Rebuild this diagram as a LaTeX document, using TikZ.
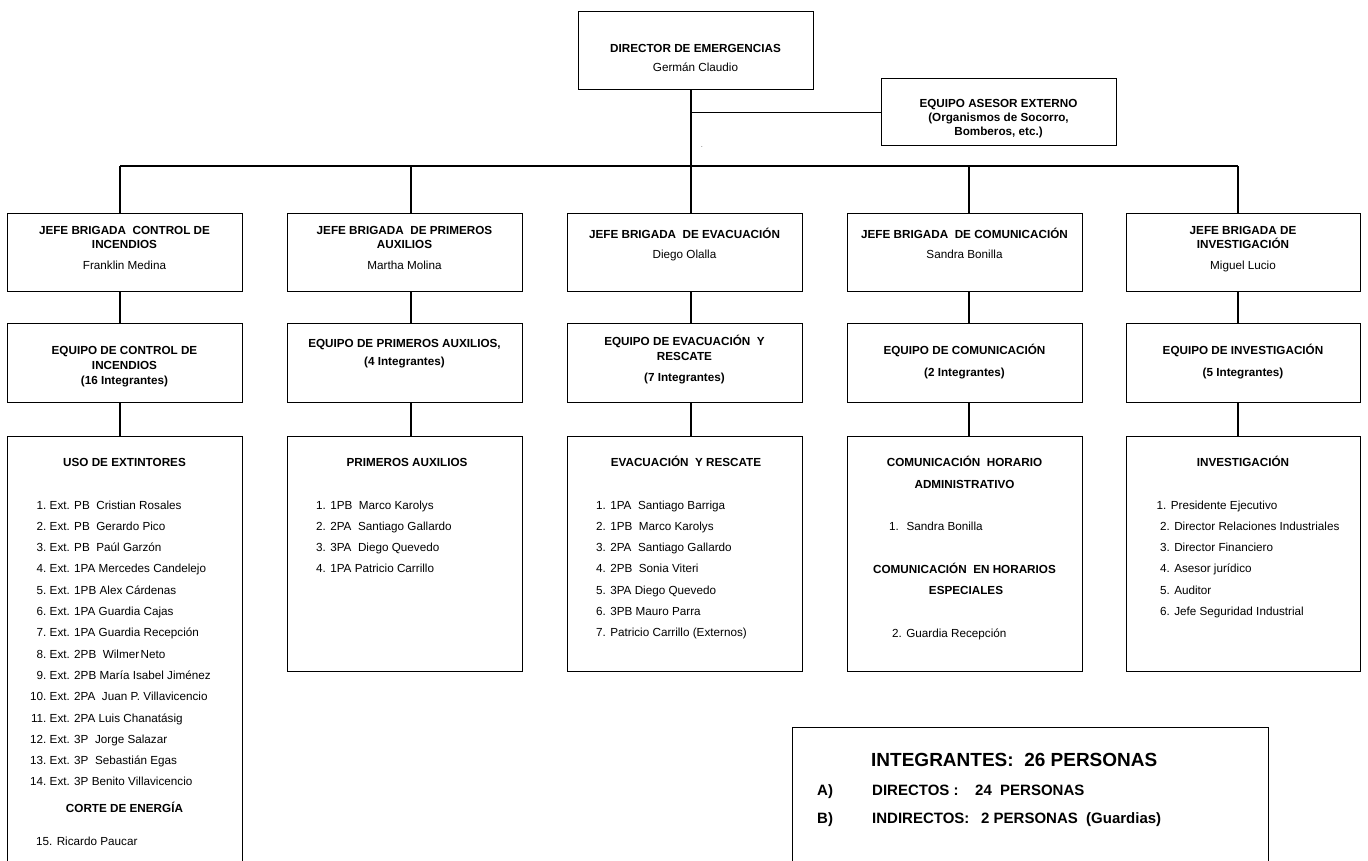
\documentclass[tikz,border=0pt]{standalone}
\usepackage{fontspec}
\setmainfont{Liberation Sans}
\newcommand{\numcol}[1]{\makebox[16.3pt][r]{#1}\ }
\newcommand{\gap}{\hspace{6.5pt}}
\begin{document}
\begin{tikzpicture}[x=1pt,y=-1pt,
  box/.style={draw=black, line width=1.3pt, rectangle, inner sep=0pt, anchor=north west},
  link/.style={draw=black, line width=1.2pt},
  hd/.style={inner sep=0pt, anchor=base, font=\fontsize{11.7}{14}\selectfont\bfseries},
  nm/.style={inner sep=0pt, anchor=base, font=\fontsize{11.7}{14}\selectfont},
  li/.style={inner sep=0pt, anchor=base west, font=\fontsize{11.7}{14}\selectfont},
  big/.style={inner sep=0pt, anchor=base west, font=\fontsize{19}{23}\selectfont\bfseries},
  sm/.style={inner sep=0pt, anchor=base west, font=\fontsize{15}{18}\selectfont\bfseries},
]
\useasboundingbox (0,0) rectangle (1368,860);
\clip (0,0) rectangle (1368,860);
\fill[white] (0,0) rectangle (1368,860);

% top level
\node[box, minimum width=235pt, minimum height=78pt] (dir) at (578,11) {};
\node[hd] (dirT) at (695.5,52) {DIRECTOR DE EMERGENCIAS};
\node[nm] (dirN) at (695.5,71) {Germán Claudio};

\node[box, minimum width=235pt, minimum height=67pt] (adv) at (881,78) {};
\node[hd] (adv1) at (998.5,107) {EQUIPO ASESOR EXTERNO};
\node[hd] (adv2) at (998.5,121) {(Organismos de Socorro,};
\node[hd] (adv3) at (998.5,135) {Bomberos, etc.)};
\node[inner sep=0pt, anchor=base, font=\fontsize{6}{7}\selectfont] (dot) at (702,147) {.};

% column axes and bus
\coordinate (bus) at (0,166);
\coordinate (x1) at (120,0);
\coordinate (x2) at (411,0);
\coordinate (x3) at (691,0);
\coordinate (x4) at (969,0);
\coordinate (x5) at (1238,0);

% brigade heads
\node[box, minimum width=235pt, minimum height=78pt] (j1) at (7,213) {};
\node[box, minimum width=235pt, minimum height=78pt] (j2) at (287,213) {};
\node[box, minimum width=235pt, minimum height=78pt] (j3) at (567,213) {};
\node[box, minimum width=235pt, minimum height=78pt] (j4) at (847,213) {};
\node[box, minimum width=234pt, minimum height=78pt] (j5) at (1126,213) {};

\node[hd] (j1a) at (124.5,234) {JEFE BRIGADA~ CONTROL DE};
\node[hd] (j1b) at (124.5,248) {INCENDIOS};
\node[nm] (j1c) at (124.5,269) {Franklin Medina};
\node[hd] (j2a) at (404.5,234) {JEFE BRIGADA~ DE PRIMEROS};
\node[hd] (j2b) at (404.5,248) {AUXILIOS};
\node[nm] (j2c) at (404.5,269) {Martha Molina};
\node[hd] (j3a) at (684.5,238) {JEFE BRIGADA~ DE EVACUACIÓN};
\node[nm] (j3c) at (684.5,258) {Diego Olalla};
\node[hd] (j4a) at (964.5,238) {JEFE BRIGADA~ DE COMUNICACIÓN};
\node[nm] (j4c) at (964.5,258) {Sandra Bonilla};
\node[hd] (j5a) at (1243,234) {JEFE BRIGADA DE};
\node[hd] (j5b) at (1243,248) {INVESTIGACIÓN};
\node[nm] (j5c) at (1243,269) {Miguel Lucio};

% teams
\node[box, minimum width=235pt, minimum height=79pt] (e1) at (7,323) {};
\node[box, minimum width=235pt, minimum height=79pt] (e2) at (287,323) {};
\node[box, minimum width=235pt, minimum height=79pt] (e3) at (567,323) {};
\node[box, minimum width=235pt, minimum height=79pt] (e4) at (847,323) {};
\node[box, minimum width=234pt, minimum height=79pt] (e5) at (1126,323) {};

\node[hd] (e1a) at (124.5,354) {EQUIPO DE CONTROL DE};
\node[hd] (e1b) at (124.5,369) {INCENDIOS};
\node[hd] (e1c) at (124.5,384) {(16 Integrantes)};
\node[hd] (e2a) at (404.5,347) {EQUIPO DE PRIMEROS AUXILIOS,};
\node[hd] (e2c) at (404.5,365) {(4 Integrantes)};
\node[hd] (e3a) at (684.5,345) {EQUIPO DE EVACUACIÓN~ Y};
\node[hd] (e3b) at (684.5,360) {RESCATE};
\node[hd] (e3c) at (684.5,381) {(7 Integrantes)};
\node[hd] (e4a) at (964.5,354) {EQUIPO DE COMUNICACIÓN};
\node[hd] (e4c) at (964.5,376) {(2 Integrantes)};
\node[hd] (e5a) at (1243,354) {EQUIPO DE INVESTIGACIÓN};
\node[hd] (e5c) at (1243,376) {(5 Integrantes)};

% member lists
\node[box, minimum width=235pt, minimum height=450pt] (l1) at (7,436) {};
\node[box, minimum width=235pt, minimum height=235pt] (l2) at (287,436) {};
\node[box, minimum width=235pt, minimum height=235pt] (l3) at (567,436) {};
\node[box, minimum width=235pt, minimum height=235pt] (l4) at (847,436) {};
\node[box, minimum width=234pt, minimum height=235pt] (l5) at (1126,436) {};

% column 1
\node[hd] (l1h) at (124.5,466) {USO DE EXTINTORES};
\node[li] (l1i1) at (30,509) {\numcol{1.}Ext. PB~ Cristian Rosales};
\node[li] (l1i2) at (30,530.3) {\numcol{2.}Ext. PB~ Gerardo Pico};
\node[li] (l1i3) at (30,551.6) {\numcol{3.}Ext. PB~ Paúl Garzón};
\node[li] (l1i4) at (30,572.9) {\numcol{4.}Ext. 1PA Mercedes Candelejo};
\node[li] (l1i5) at (30,594.2) {\numcol{5.}Ext. 1PB Alex Cárdenas};
\node[li] (l1i6) at (30,615.5) {\numcol{6.}Ext. 1PA Guardia Cajas};
\node[li] (l1i7) at (30,636.8) {\numcol{7.}Ext. 1PA Guardia Recepción};
\node[li] (l1i8) at (30,658.1) {\numcol{8.}Ext. 2PB~ Wilmer\hspace{1.5pt}Neto};
\node[li] (l1i9) at (30,679.4) {\numcol{9.}Ext. 2PB María Isabel Jiménez};
\node[li] (l1i10) at (30,700.7) {\numcol{10.}Ext. 2PA~ Juan P. Villavicencio};
\node[li] (l1i11) at (30,722) {\numcol{11.}Ext. 2PA Luis Chanatásig};
\node[li] (l1i12) at (30,743.3) {\numcol{12.}Ext. 3P~ Jorge Salazar};
\node[li] (l1i13) at (30,764.6) {\numcol{13.}Ext. 3P~ Sebastián Egas};
\node[li] (l1i14) at (30,785.9) {\numcol{14.}Ext. 3P Benito Villavicencio};
\node[hd] (l1h2) at (124.5,812) {CORTE DE ENERGÍA};
\node[li] (l1i15) at (36,845) {15. Ricardo Paucar};

% column 2
\node[hd] (l2h) at (407,466) {PRIMEROS AUXILIOS};
\node[li] (l2i1) at (316,509) {1. 1PB\gap Marco Karolys};
\node[li] (l2i2) at (316,530.3) {2. 2PA\gap Santiago Gallardo};
\node[li] (l2i3) at (316,551.6) {3. 3PA\gap Diego Quevedo};
\node[li] (l2i4) at (316,572.9) {4. 1PA Patricio Carrillo};

% column 3
\node[hd] (l3h) at (686,466) {EVACUACIÓN~ Y RESCATE};
\node[li] (l3i1) at (596,509) {1. 1PA\gap Santiago Barriga};
\node[li] (l3i2) at (596,530.3) {2. 1PB\gap Marco Karolys};
\node[li] (l3i3) at (596,551.6) {3. 2PA\gap Santiago Gallardo};
\node[li] (l3i4) at (596,572.9) {4. 2PB\gap Sonia Viteri};
\node[li] (l3i5) at (596,594.2) {5. 3PA Diego Quevedo};
\node[li] (l3i6) at (596,615.5) {6. 3PB Mauro Parra};
\node[li] (l3i7) at (596,636.8) {7. Patricio Carrillo (Externos)};

% column 4
\node[hd] (l4h) at (964.5,466) {COMUNICACIÓN~ HORARIO};
\node[hd] (l4h2) at (964.5,488) {ADMINISTRATIVO};
\node[li] (l4i1) at (889,530) {1.~ Sandra Bonilla};
\node[hd] (l4h3) at (964.5,573) {COMUNICACIÓN~ EN HORARIOS};
\node[hd] (l4h4) at (966,594) {ESPECIALES};
\node[li] (l4i2) at (892,637) {2. Guardia Recepción};

% column 5
\node[hd] (l5h) at (1243,466) {INVESTIGACIÓN};
\node[li] (l5i1) at (1156.5,509) {1. Presidente Ejecutivo};
\node[li] (l5i2) at (1160,530.3) {2. Director Relaciones Industriales};
\node[li] (l5i3) at (1160,551.6) {3. Director Financiero};
\node[li] (l5i4) at (1160,572.9) {4. Asesor jurídico};
\node[li] (l5i5) at (1160,594.2) {5. Auditor};
\node[li] (l5i6) at (1160,615.5) {6. Jefe Seguridad Industrial};

% summary (open at the bottom edge of the page)
\node[box, minimum width=476pt, minimum height=200pt] (sum) at (792,727) {};
\node[big] (sumT) at (871,766) {INTEGRANTES:~ 26 PERSONAS};
\node[sm] (sumA) at (817,795) {A)};
\node[sm] (sumA1) at (872,795) {DIRECTOS :};
\node[sm] (sumA2) at (975,795) {24~ PERSONAS};
\node[sm] (sumB) at (817,823) {B)};
\node[sm] (sumB1) at (872,823) {INDIRECTOS:};
\node[sm] (sumB2) at (981,823) {2 PERSONAS~ (Guardias)};

% connectors
\draw[link] (x3 |- dir.south) -- (x3 |- bus);
\draw[link] (x3 |- adv.west) -- (adv.west);
\draw[link] (x1 |- bus) -- (x5 |- bus);
\foreach \i in {1,...,5} {
  \draw[link] (x\i |- bus) -- (x\i |- j\i.north);
  \draw[link] (x\i |- j\i.south) -- (x\i |- e\i.north);
  \draw[link] (x\i |- e\i.south) -- (x\i |- l\i.north);
}
\end{tikzpicture}
\end{document}
